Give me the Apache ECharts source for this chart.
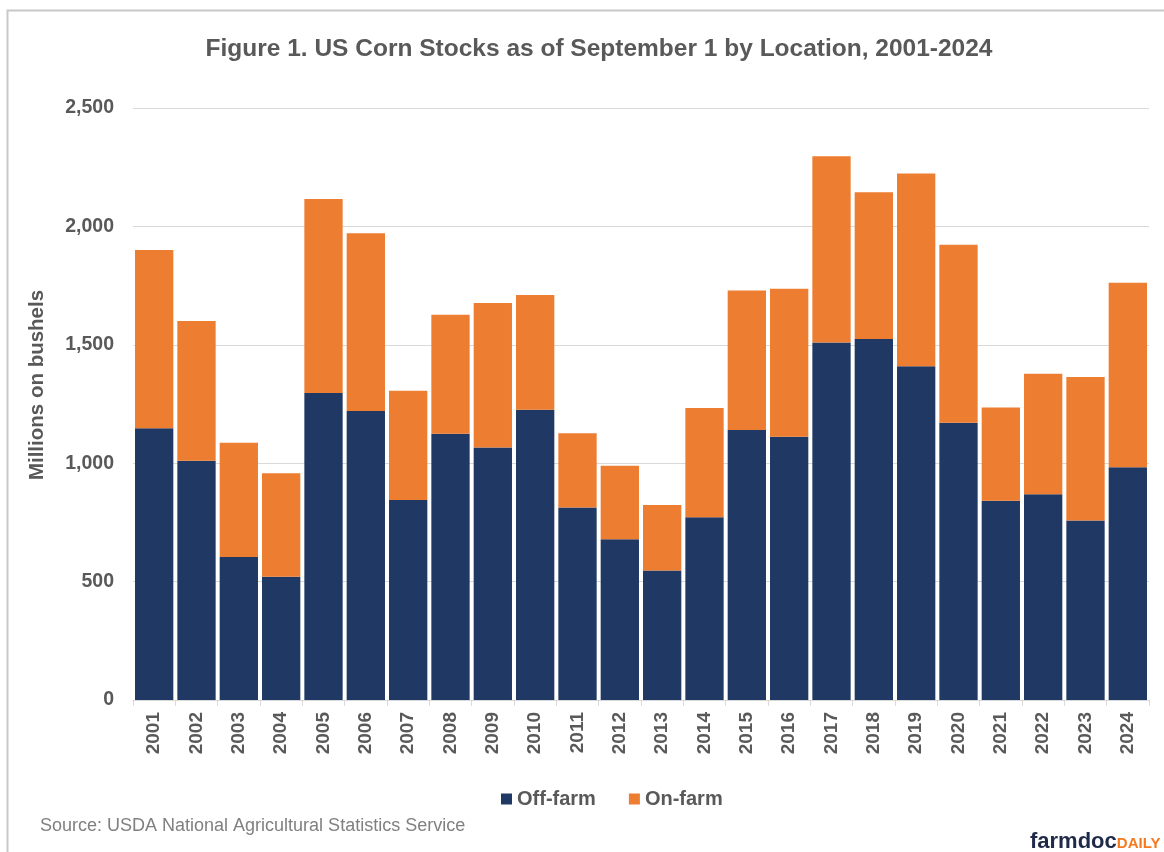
<!DOCTYPE html>
<html>
<head>
<meta charset="utf-8">
<script src="https://cdn.jsdelivr.net/npm/echarts@6/dist/echarts.min.js"></script>
<style>
html,body{margin:0;padding:0;background:#fff;}
#chart{width:1164px;height:852px;}
</style>
</head>
<body>
<div id="chart"></div>
<script>
const years = ['2001','2002','2003','2004','2005','2006','2007','2008','2009','2010','2011','2012','2013','2014','2015','2016','2017','2018','2019','2020','2021','2022','2023','2024'];
const offFarm = [1148,1010,604,521,1296,1220,845,1124,1066,1226,813,679,547,772,1140,1112,1510,1524,1409,1171,841,869,758,983];
const onFarm = [752,590,482,437,820,751,461,503,611,484,314,310,276,461,589,625,786,620,814,751,394,509,606,779];
const yTicks = [0,500,1000,1500,2000,2500];

const chart = echarts.init(document.getElementById('chart'), null, {renderer:'canvas'});
const txt = '#595959';
const font = 'Liberation Sans, Arial, sans-serif';
chart.setOption({
  animation:false,
  backgroundColor:'#ffffff',
  title:{
    text:'Figure 1. US Corn Stocks as of September 1 by Location, 2001-2024',
    left:594, top:32, textAlign:'center',
    textStyle:{color:txt, fontSize:24.5, fontWeight:'bold', fontFamily:font}
  },
  legend:{
    left:496, top:784,
    itemWidth:11, itemHeight:11, itemGap:33,
    icon:'rect',
    textStyle:{color:txt, fontSize:20, fontWeight:'bold', fontFamily:font},
    data:['Off-farm','On-farm']
  },
  grid:{left:133, right:15, top:108, bottom:152, containLabel:false},
  xAxis:{
    type:'category', data:years,
    axisLine:{lineStyle:{color:'#d9d9d9', width:1}},
    axisTick:{show:true, length:6, lineStyle:{color:'#d9d9d9'}},
    axisLabel:{rotate:90, color:txt, fontSize:19, fontWeight:'bold', fontFamily:font, margin:12}
  },
  yAxis:{
    type:'value', min:yTicks[0], max:yTicks[yTicks.length-1], interval:500,
    axisLine:{show:false}, axisTick:{show:false},
    splitLine:{lineStyle:{color:'#d9d9d9', width:1}},
    axisLabel:{color:txt, fontSize:19.5, fontWeight:'bold', fontFamily:font, margin:19,
      formatter:v=>v.toLocaleString('en-US')}
  },
  series:[
    {name:'Off-farm', type:'bar', stack:'s', data:offFarm, barCategoryGap:'9.5%',
     itemStyle:{color:'#203864'}},
    {name:'On-farm', type:'bar', stack:'s', data:onFarm, barCategoryGap:'9.5%',
     itemStyle:{color:'#ED7D31'}}
  ],
  graphic:[
    {type:'rect', shape:{x:7.5, y:10.5, width:1300, height:1000},
     style:{fill:'none', stroke:'#c8c8c8', lineWidth:2}, silent:true},
    {type:'text', x:37, y:385, rotation:Math.PI/2,
     style:{text:'Millions on bushels', fill:txt, fontSize:20.5, fontWeight:'bold', fontFamily:font,
       align:'center', verticalAlign:'middle'}},
    {type:'text', left:40, top:817,
     style:{text:'Source: USDA National Agricultural Statistics Service', fill:'#808080', fontSize:18, fontFamily:font}},
    {type:'text', left:1030, top:831,
     style:{text:'{a|farmdoc}{b|DAILY}', rich:{
       a:{fill:'#1f2a4a', fontSize:22, fontWeight:'bold', fontFamily:font},
       b:{fill:'#f47a20', fontSize:15, fontWeight:'bold', fontFamily:font, padding:[4,0,0,0]}
     }}}
  ]
});
</script>
</body>
</html>
